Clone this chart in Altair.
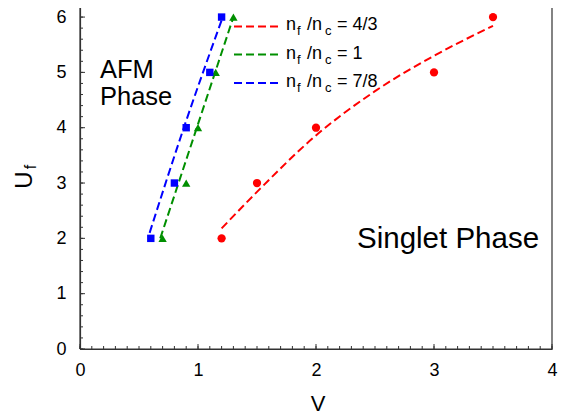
import altair as alt
import pandas as pd

FONT = "Liberation Sans"

# ---- data ----
v_43 = [1.2, 1.5, 2.0, 3.0, 3.5]
u_43 = [2, 3, 4, 5, 6]
v_1 = [0.7, 0.9, 1.0, 1.15, 1.3]
u_1 = [2, 3, 4, 5, 6]
v_78 = [0.6, 0.8, 0.9, 1.1, 1.2]
u_78 = [2, 3, 4, 5, 6]

fit_v_43 = [1.2, 1.5, 2.0, 2.5, 3.0, 3.5]
fit_u_43 = [2.18, 2.84, 3.86, 4.66, 5.30, 5.84]
fit_v_1 = [0.68, 1.30]
fit_u_1 = [2.0, 6.0]
fit_v_78 = [0.59, 0.88, 1.21]
fit_u_78 = [2.1, 4.0, 6.0]

x_lim = [0, 4]
y_lim = [0, 6.2]
x_major = [0, 1, 2, 3, 4]
y_major = [0, 1, 2, 3, 4, 5, 6]
x_minor = [round(i * 0.1, 1) for i in range(41)]
y_minor = [round(i * 0.2, 1) for i in range(31)]

# frame corners (closed path around the plot area)
frame_v_pts = [x_lim[0], x_lim[0], x_lim[1], x_lim[1], x_lim[0]]
frame_u_pts = [y_lim[0], y_lim[1], y_lim[1], y_lim[0], y_lim[0]]

RED = "#ff0000"
GREEN = "#008f00"
BLUE = "#0000ff"
FRAME = "#333333"

W, H = 472, 343

xs = alt.Scale(domain=x_lim, nice=False, zero=False)
ys = alt.Scale(domain=y_lim, nice=False, zero=False)
xax = alt.Axis(values=x_major, title=None, labelPadding=12, format="d", labelFlush=False,
               domain=True, domainColor=FRAME, domainWidth=1.2)
yax = alt.Axis(values=y_major, title=None, labelPadding=14, format="d", labelFlush=False,
               domain=True, domainColor=FRAME, domainWidth=1.2)


def X(field="v"):
    return alt.X(f"{field}:Q", scale=xs, axis=xax)


def Y(field="u"):
    return alt.Y(f"{field}:Q", scale=ys, axis=yax)


def series_df(v, u):
    return pd.DataFrame({"v": v, "u": u})


def fit_layer(v, u, color):
    return alt.Chart(series_df(v, u)).mark_line(
        color=color, strokeDash=[8, 4], strokeWidth=2, interpolate="monotone"
    ).encode(x=X(), y=Y())


def pt_layer(v, u, color, shape, size):
    return alt.Chart(series_df(v, u)).mark_point(
        color=color, fill=color, filled=True, shape=shape, size=size, opacity=1
    ).encode(x=X(), y=Y())


one = pd.DataFrame({"a": [0]})


def txt(s, x, y, size, align="left", baseline="alphabetic", angle=0):
    return alt.Chart(one).mark_text(
        text=s, font=FONT, fontSize=size, align=align, baseline=baseline,
        angle=angle, color="black"
    ).encode(x=alt.value(x), y=alt.value(y))


def leg_line(y, color):
    return alt.Chart(one).mark_rule(
        color=color, strokeDash=[8, 4], strokeWidth=2
    ).encode(x=alt.value(154), x2=alt.value(199), y=alt.value(y))


frame_df = pd.DataFrame({"v": frame_v_pts, "u": frame_u_pts, "i": list(range(len(frame_v_pts)))})
frame = alt.Chart(frame_df).mark_line(color=FRAME, strokeWidth=1.2).encode(
    x=X(), y=Y(), order=alt.Order("i:Q"))

# inward ticks
xt_minor = alt.Chart(pd.DataFrame({"v": x_minor})).mark_rule(color=FRAME, strokeWidth=1).encode(
    x=X(), y=alt.value(H), y2=alt.value(H - 3))
xt_major = alt.Chart(pd.DataFrame({"v": x_major})).mark_rule(color=FRAME, strokeWidth=1).encode(
    x=X(), y=alt.value(H), y2=alt.value(H - 5))
yt_minor = alt.Chart(pd.DataFrame({"u": y_minor})).mark_rule(color=FRAME, strokeWidth=1).encode(
    y=Y(), x=alt.value(0.01), x2=alt.value(3))
yt_major = alt.Chart(pd.DataFrame({"u": y_major})).mark_rule(color=FRAME, strokeWidth=1).encode(
    y=Y(), x=alt.value(0.01), x2=alt.value(5))

layers = [xt_minor, xt_major, yt_minor, yt_major, frame,
    fit_layer(fit_v_43, fit_u_43, RED),
    fit_layer(fit_v_1, fit_u_1, GREEN),
    fit_layer(fit_v_78, fit_u_78, BLUE),
    pt_layer(v_43, u_43, RED, "circle", 68),
    pt_layer(v_1, u_1, GREEN, "triangle-up", 70),
    pt_layer(v_78, u_78, BLUE, "square", 55),
    # legend
    leg_line(20.5, RED), leg_line(48.5, GREEN), leg_line(77, BLUE),
]

for yb, lab in [(24, "= 4/3"), (52.5, "= 1"), (81, "= 7/8")]:
    layers += [
        txt("n", 206, yb, 18),
        txt("f", 217, yb + 5, 13),
        txt("/n", 227, yb, 18),
        txt("c", 245, yb + 5, 13),
        txt(lab, 257, yb, 18),
    ]

layers += [
    txt("AFM", 20, 72, 25.5),
    txt("Phase", 20, 99, 25.5),
    txt("Singlet Phase", 277, 242, 29.5),
    txt("V", W / 2 + 2, 405, 22, align="center"),
    txt("U", -55, 174, 24, align="center", baseline="middle", angle=270),
    txt("f", -49, 161, 16, align="center", baseline="middle", angle=270),
]

chart = alt.layer(*layers).properties(
    width=W, height=H,
    autosize=alt.AutoSizeParams(type="none"),
    padding={"left": 72, "top": -2, "right": 6, "bottom": 68},
    background="white",
).configure_view(
    stroke=None
).configure_axis(
    grid=False, ticks=False, tickSize=0,
    labelFont=FONT, labelFontSize=18, labelColor="black"
)

chart.save("out.html", embed_options={"renderer": "svg", "actions": False})
